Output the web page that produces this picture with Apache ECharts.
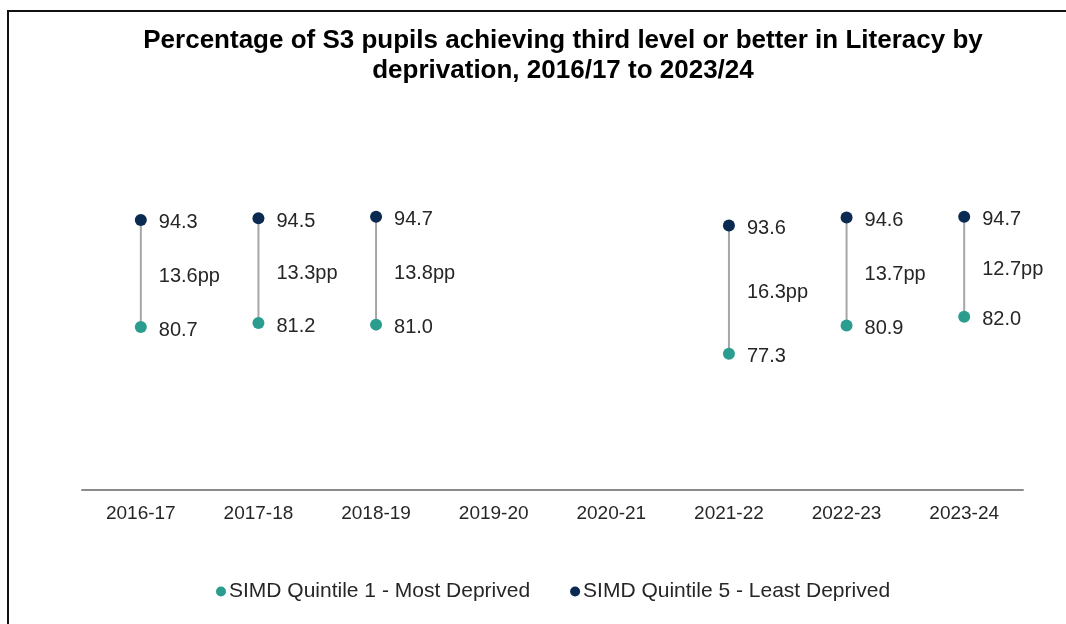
<!DOCTYPE html>
<html>
<head>
<meta charset="utf-8">
<script src="https://cdn.jsdelivr.net/npm/echarts@6/dist/echarts.min.js"></script>
<style>
html,body{margin:0;padding:0;background:#fff;}
#c{width:1066px;height:624px;}
</style>
</head>
<body>
<div id="c"></div>
<script>
const categories = ['2016-17','2017-18','2018-19','2019-20','2020-21','2021-22','2022-23','2023-24'];
const q1Values = [80.7, 81.2, 81.0, null, null, 77.3, 80.9, 82.0];
const q5Values = [94.3, 94.5, 94.7, null, null, 93.6, 94.6, 94.7];
const gapLabels = ['13.6pp','13.3pp','13.8pp', null, null, '16.3pp','13.7pp','12.7pp'];
const q1Name = 'SIMD Quintile 1 - Most Deprived';
const q5Name = 'SIMD Quintile 5 - Least Deprived';

const TEAL = '#2a9d8f';
const NAVY = '#0b2a52';
const FONT = 'Liberation Sans, Arial, sans-serif';
const TXT = '#262626';

const rangeData = categories.map((c, i) => (q1Values[i] == null ? [i, '-', '-'] : [i, q1Values[i], q5Values[i]]));
const gapData = categories.map((c, i) => (q1Values[i] == null ? [i, '-'] : [i, (q1Values[i] + q5Values[i]) / 2]));

const chart = echarts.init(document.getElementById('c'));
chart.setOption({
  animation: false,
  backgroundColor: '#fff',
  title: {
    text: 'Percentage of S3 pupils achieving third level or better in Literacy by\ndeprivation, 2016/17 to 2023/24',
    left: 558, top: 21, textAlign: 'center',
    textStyle: {fontFamily: FONT, fontSize: 26, fontWeight: 'bold', color: '#000', lineHeight: 30}
  },
  graphic: [{
    type: 'polyline', silent: true,
    shape: {points: [[8, 630], [8, 11], [1070, 11]]},
    style: {stroke: '#111', lineWidth: 2, fill: null}
  }],
  legend: {
    bottom: 17, left: 211, itemGap: 40, itemWidth: 10, itemHeight: 10,
    icon: 'circle',
    data: [q1Name, q5Name],
    textStyle: {fontFamily: FONT, fontSize: 21, color: TXT, padding: [0,0,0,-2]}
  },
  grid: {left: 82, right: 43, top: 175, bottom: 134},
  xAxis: {
    type: 'category', data: categories,
    axisLine: {lineStyle: {color: '#8c8c8c', width: 2}},
    axisTick: {show: false},
    axisLabel: {fontFamily: FONT, fontSize: 19, color: TXT, margin: 14}
  },
  yAxis: {
    type: 'value', min: 60, max: 100, interval: 10, show: false,
    splitLine: {show: false}
  },
  series: [
    {
      type: 'custom', name: 'range', silent: true, z: 1,
      data: rangeData,
      encode: {x: 0, y: [1, 2]},
      renderItem: function (params, api) {
        const lo = api.value(1), hi = api.value(2);
        if (isNaN(lo) || isNaN(hi)) return null;
        const p1 = api.coord([api.value(0), lo]);
        const p2 = api.coord([api.value(0), hi]);
        return {type: 'line', shape: {x1: p1[0], y1: p1[1], x2: p2[0], y2: p2[1]},
          style: {stroke: '#a6a6a6', lineWidth: 2}};
      }
    },
    {
      type: 'scatter', name: 'gap', silent: true, symbolSize: 0, z: 2,
      itemStyle: {opacity: 1},
      data: gapData,
      label: {
        show: true, position: 'right', distance: 18, offset: [0, 3],
        fontFamily: FONT, fontSize: 20, color: TXT,
        formatter: p => gapLabels[p.dataIndex] || ''
      }
    },
    {
      type: 'scatter', name: q1Name, symbol: 'circle', symbolSize: 12, z: 3,
      itemStyle: {color: TEAL, opacity: 1},
      data: q1Values.map(v => v == null ? '-' : v),
      label: {
        show: true, position: 'right', distance: 12, offset: [0, 3],
        fontFamily: FONT, fontSize: 20, color: TXT,
        formatter: p => q1Values[p.dataIndex].toFixed(1)
      }
    },
    {
      type: 'scatter', name: q5Name, symbol: 'circle', symbolSize: 12, z: 3,
      itemStyle: {color: NAVY, opacity: 1},
      data: q5Values.map(v => v == null ? '-' : v),
      label: {
        show: true, position: 'right', distance: 12, offset: [0, 3],
        fontFamily: FONT, fontSize: 20, color: TXT,
        formatter: p => q5Values[p.dataIndex].toFixed(1)
      }
    }
  ]
});
</script>
</body>
</html>
